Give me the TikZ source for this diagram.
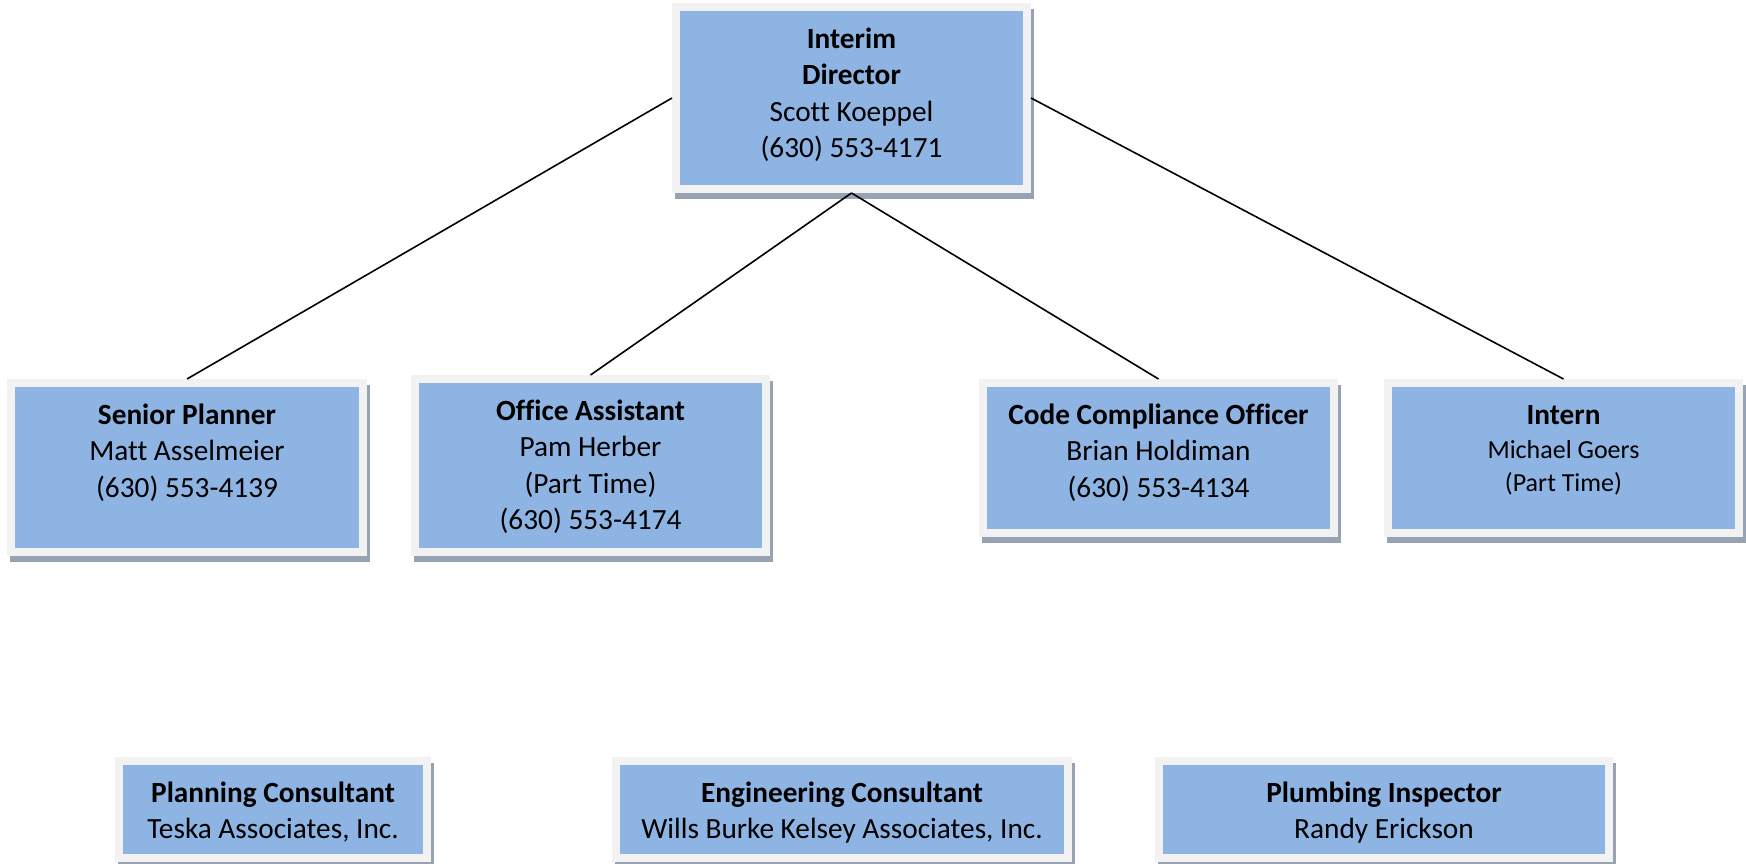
\documentclass[tikz,border=0pt]{standalone}
\usepackage{fontspec}
\setmainfont[Ligatures=NoCommon]{Carlito}
\definecolor{boxblue}{HTML}{8EB4E3}
\definecolor{framegray}{HTML}{F2F2F2}
\definecolor{shadowgray}{HTML}{97A3B3}
\newcommand{\orgbox}[6]{%
  \fill[shadowbox] ({#2+3},{#3+6}) rectangle ({#4+3},{#5+6});
  \node[framebox, minimum width={#4-#2-8}, minimum height={#5-#3-8}] (#1) at ({(#2+#4)/2},{(#3+#5)/2}) {};
  \node[boxtext] (#1-text) at ({(#2+#4)/2},{#3+20}) {\rule{0pt}{25pt}#6};
}
\begin{document}
\begin{tikzpicture}[x=1pt,y=-1pt,
  framebox/.style={draw=framegray, line width=8pt, fill=boxblue, inner sep=0pt},
  shadowbox/.style={fill=shadowgray},
  boxtext/.style={anchor=north, align=center, inner sep=0pt, font=\fontsize{29.3}{36.5}\selectfont},
  link/.style={draw=black, line width=1.6pt}]
\useasboundingbox[fill=white] (0,0) rectangle (1746,864);
\orgbox{top}{672}{3}{1031}{193}{\textbf{Interim}\\\textbf{Director}\\Scott Koeppel\\(630) 553-4171}
\orgbox{sp}{7}{379}{367}{556}{\textbf{Senior Planner}\\Matt Asselmeier\\(630) 553-4139}
\orgbox{oa}{411}{375}{770}{556}{\textbf{Office Assistant}\\Pam Herber\\(Part Time)\\(630) 553-4174}
\orgbox{cc}{979}{379}{1338}{537}{\textbf{Code Compliance Officer}\\Brian Holdiman\\(630) 553-4134}
\orgbox{intern}{1384}{379}{1743}{537}{\textbf{Intern}\\[-2pt]{\fontsize{26}{32}\selectfont Michael Goers}\\[-4pt]{\fontsize{26}{32}\selectfont (Part Time)}}
\orgbox{plan}{115}{757}{431}{862}{\textbf{Planning Consultant}\\Teska Associates, Inc.}
\orgbox{eng}{612}{757}{1072}{862}{\textbf{Engineering Consultant}\\Wills Burke Kelsey Associates, Inc.}
\orgbox{plumb}{1155}{757}{1613}{862}{\textbf{Plumbing Inspector}\\Randy Erickson}
\draw[link] (top.west) -- (sp.north);
\draw[link] (top.south) -- (oa.north);
\draw[link] (top.south) -- (cc.north);
\draw[link] (top.east) -- (intern.north);
\end{tikzpicture}
\end{document}
